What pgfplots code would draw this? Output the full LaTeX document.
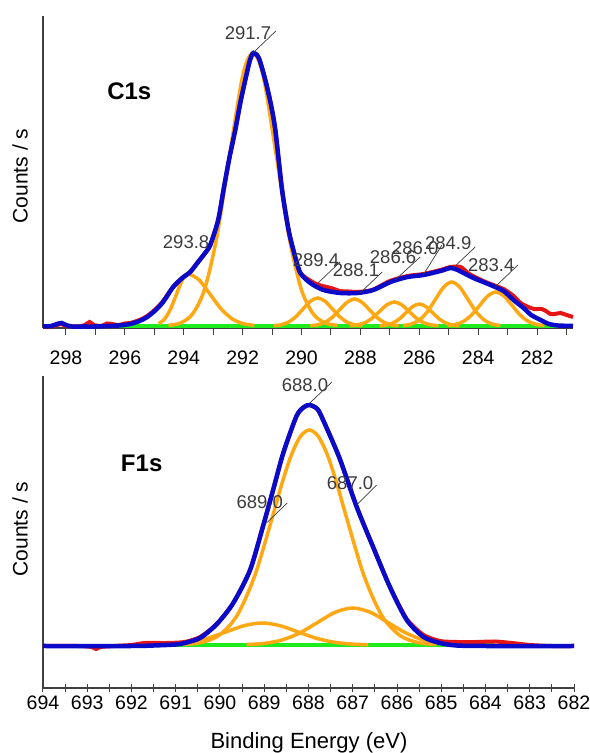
\documentclass[border=0pt]{standalone}
\usepackage{fontspec}
\setmainfont{Liberation Sans}
\usepackage{pgfplots}
\pgfplotsset{compat=1.18}
\definecolor{cblue}{RGB}{10,10,200}
\definecolor{corange}{RGB}{255,168,20}
\definecolor{cgreen}{RGB}{30,235,30}
\definecolor{cred}{RGB}{230,20,20}
\definecolor{lgray}{RGB}{60,60,60}
\pgfplotsset{
 xps/.style={
  scale only axis, height=312bp, x dir=reverse, ymin=0, ymax=312,
  axis lines*=left, ytick=\empty, clip=false,
  axis line style={draw=black!75, line width=1.2bp},
  tick style={draw=black!75, line width=1bp},
  /pgf/number format/assume math mode=true,
  /pgf/number format/fixed,
  ticklabel style={font=\fontsize{19.5bp}{19.5bp}\selectfont},
 },
}
\tikzset{
 bl/.style={cblue, line width=4.5bp, smooth, tension=0.45},
 rd/.style={cred, line width=4bp, smooth, tension=0.4},
 og/.style={corange, line width=3.5bp, smooth},
 gr/.style={cgreen, line width=4bp},
 lab/.style={font=\fontsize{18.5bp}{18.5bp}\selectfont, text=lgray, inner sep=0pt},
 ld/.style={lgray, line width=0.7bp},
}
\begin{document}
\begin{tikzpicture}[x=1bp,y=1bp]
\path[use as bounding box] (0,0) rectangle (590,753);
% ---------------- C1s ----------------
\begin{axis}[xps, width=530bp, at={(43bp,425bp)}, anchor=south west,
  xmin=280.78, xmax=298.78, xtick={282,284,...,298}, minor xtick={281,283,...,297},
  tick align=outside, major tick length=7bp, minor tick length=7bp,
  xticklabel style={anchor=north, yshift=-12bp}]
\addplot[gr, no marks] coordinates {(296.2,2) (280.78,2)};
% components
\addplot[og, no marks] coordinates {(294.52,2.6) (294.11,5.0) (293.70,14.0) (293.29,38.9) (292.88,90.6) (292.47,167.6) (292.06,242.9) (291.855,266.6) (291.65,275) (291.445,266.6) (291.24,242.9) (290.83,167.6) (290.42,90.6) (290.01,38.9) (289.60,14.0) (289.19,5.0) (288.78,2.6)};
\addplot[og, no marks] coordinates {(294.85,4.3) (294.65,9.0) (294.45,18.9) (294.25,33.5) (294.05,47.9) (293.85,54) (293.475,47.9) (293.10,33.5) (292.725,18.9) (292.35,9.0) (291.975,4.3) (291.60,2.6)};
\addplot[og, no marks] coordinates {(290.95,2.3) (290.70,3.2) (290.45,5.8) (290.20,11.1) (289.95,19.0) (289.70,26.7) (289.45,30) (289.20,26.7) (288.95,19.0) (288.70,11.1) (288.45,5.8) (288.20,3.2) (287.95,2.3)};
\addplot[og, no marks] coordinates {(289.70,2.3) (289.45,3.2) (289.20,5.7) (288.95,10.8) (288.70,18.4) (288.45,25.8) (288.20,29) (287.95,25.8) (287.70,18.4) (287.45,10.8) (287.20,5.7) (286.95,3.2) (286.70,2.3)};
\addplot[og, no marks] coordinates {(288.35,2.3) (288.10,3.1) (287.85,5.2) (287.60,9.8) (287.35,16.6) (287.10,23.2) (286.85,26) (286.60,23.2) (286.35,16.6) (286.10,9.8) (285.85,5.2) (285.60,3.1) (285.35,2.3)};
\addplot[og, no marks] coordinates {(287.35,2.2) (287.125,3.0) (286.90,5.0) (286.675,9.1) (286.45,15.3) (286.225,21.4) (286.0,24) (285.775,21.4) (285.55,15.3) (285.325,9.1) (285.10,5.0) (284.875,3.0) (284.65,2.2)};
\addplot[og, no marks] coordinates {(286.55,2.5) (286.275,3.9) (286.0,8.0) (285.725,16.3) (285.45,28.7) (285.175,40.8) (284.9,46) (284.625,40.8) (284.35,28.7) (284.075,16.3) (283.80,8.0) (283.525,3.9) (283.25,2.5)};
\addplot[og, no marks] coordinates {(285.05,2.4) (284.775,3.5) (284.50,6.6) (284.225,13.0) (283.95,22.6) (283.675,32.0) (283.4,36) (283.125,32.0) (282.85,22.6) (282.575,13.0) (282.30,6.6) (282.025,3.5) (281.75,2.4)};
% data
\addplot[rd, no marks] coordinates {(298.78,1) (298.5,1.5) (298.3,3) (298.15,4) (298.0,2) (297.6,1.5) (297.35,3) (297.2,6) (297.05,3) (296.8,2) (296.6,4.5) (296.45,4) (296.2,3) (296.0,4.5) (295.82,5) (295.5,8) (295.24,12) (294.95,19) (294.70,27) (294.36,41) (294.05,50) (293.78,56) (293.54,65) (293.3,74) (293.1,83) (292.83,108) (292.65,138) (292.45,170) (292.25,198) (292.08,225) (291.91,248) (291.75,268) (291.63,275) (291.45,270) (291.23,248) (291.05,225) (290.89,198) (290.66,138) (290.44,98) (290.25,75) (290.04,55) (289.5,44) (289.0,40) (288.7,37) (288.4,36.5) (288.1,36) (287.6,38) (287.0,47) (286.4,52) (285.86,54) (285.28,58) (284.94,61) (284.6,61) (284.3,54) (283.9,48) (283.58,44) (283.14,39) (282.80,32) (282.56,25) (282.3,21) (282.1,19) (281.85,19) (281.7,17) (281.55,14) (281.4,14) (281.2,15) (281.0,13) (280.78,11)};
\addplot[bl, no marks] coordinates {(298.78,1.5) (298.5,2) (298.3,4) (298.15,5) (298.0,3) (297.8,1.5) (297.4,1.5) (297.0,1.5) (296.6,2) (296.2,2.5) (295.82,4) (295.5,7) (295.24,11) (294.95,18) (294.70,26) (294.36,41) (294.05,50) (293.78,56) (293.54,65) (293.3,74) (293.1,83) (292.83,108) (292.65,138) (292.45,170) (292.25,198) (292.08,225) (291.91,248) (291.75,268) (291.63,275) (291.45,270) (291.23,248) (291.05,225) (290.89,198) (290.66,138) (290.44,98) (290.25,75) (290.04,55) (289.70,45) (289.26,38) (288.68,35) (288.10,35) (287.56,38) (286.98,46) (286.40,51) (285.86,53) (285.28,57) (284.94,60) (284.70,58) (284.16,50) (283.58,43) (283.14,37) (282.80,28) (282.46,20) (282.2,13) (281.88,8) (281.6,4) (281.30,2.5) (280.78,2)};
% peak labels
\draw[ld] (axis cs:291.65,275) -- (axis cs:290.87,297);
\node[lab] at (axis cs:291.82,295) {291.7};
\node[lab] at (axis cs:293.92,86) {293.8};
\draw[ld] (axis cs:289.44,45) -- (axis cs:288.69,66);
\node[lab] at (axis cs:289.51,68) {289.4};
\draw[ld] (axis cs:288.01,35) -- (axis cs:287.26,56);
\node[lab] at (axis cs:288.15,58) {288.1};
\draw[ld] (axis cs:286.82,48) -- (axis cs:285.97,71);
\node[lab] at (axis cs:286.89,71) {286.6};
\draw[ld] (axis cs:285.87,53) -- (axis cs:285.23,83);
\node[lab] at (axis cs:286.14,80) {286.0};
\draw[ld] (axis cs:284.85,60) -- (axis cs:284.1,81);
\node[lab] at (axis cs:285.02,85) {284.9};
\draw[ld] (axis cs:283.43,41) -- (axis cs:282.65,63);
\node[lab] at (axis cs:283.56,63) {283.4};
\node[font=\fontsize{24bp}{24bp}\selectfont\bfseries] at (axis cs:295.85,237) {C1s};
\end{axis}
% ---------------- F1s ----------------
\begin{axis}[xps, width=531bp, at={(43bp,65bp)}, anchor=south west,
  xmin=682, xmax=694, xtick={682,...,694}, minor xtick={682.5,683.5,...,693.5},
  tick align=center, major tick length=8bp, minor tick length=8bp]
\addplot[gr, no marks] coordinates {(691.3,43) (683.8,43)};
\addplot[og, no marks] coordinates {(690.85,43.5) (690.44,45.4) (690.03,52.4) (689.62,72.1) (689.21,112.8) (688.80,173.4) (688.595,205.3) (688.39,232.7) (688.185,251.4) (687.98,258) (687.775,251.4) (687.57,232.7) (687.365,205.3) (687.16,173.4) (686.75,112.8) (686.34,72.1) (685.93,52.4) (685.52,45.4) (685.11,43.5)};
\addplot[og, no marks] coordinates {(689.4,43.4) (689.0,44.6) (688.6,48.0) (688.2,55.0) (687.8,65.4) (687.4,75.7) (687.0,80) (686.6,75.7) (686.2,65.4) (685.8,55.0) (685.4,48.0) (685.0,44.6) (684.6,43.4)};
\addplot[og, no marks] coordinates {(691.45,43.2) (691.05,44.0) (690.65,46.0) (690.25,50.1) (689.85,56.3) (689.45,62.4) (689.05,65) (688.65,62.4) (688.25,56.3) (687.85,50.1) (687.45,46.0) (687.05,44.0) (686.65,43.2)};
\addplot[rd, no marks] coordinates {(694,42) (693.2,42) (692.9,41) (692.8,39) (692.7,41) (692.4,42) (692.0,43) (691.7,45) (691.2,45) (690.8,46) (690.45,51) (690.07,64) (689.7,85) (689.32,118) (689.02,163) (688.8,198) (688.57,235) (688.27,272) (688.1,281) (687.97,283) (687.8,279) (687.67,268) (687.3,230) (686.91,181) (686.54,141) (686.16,101) (685.78,69) (685.4,53) (685.03,47) (684.65,46) (684.2,46) (683.8,46.5) (683.4,45) (683.0,43) (682.5,42) (682,42)};
\addplot[bl, no marks] coordinates {(694,42) (692,42) (691.5,42.5) (691.0,43.5) (690.8,45) (690.45,50) (690.07,64) (689.7,85) (689.32,118) (689.02,163) (688.8,198) (688.57,235) (688.27,272) (688.1,281) (687.97,283) (687.8,279) (687.67,268) (687.3,230) (686.91,181) (686.54,141) (686.16,101) (685.78,68) (685.4,51) (685.03,45) (684.65,42.5) (684,42) (682,42)};
\draw[ld] (axis cs:687.97,285) -- (axis cs:687.47,306);
\node[lab] at (axis cs:688.08,303) {688.0};
\draw[ld] (axis cs:688.95,165) -- (axis cs:688.48,185);
\node[lab] at (axis cs:689.1,186) {689.0};
\draw[ld] (axis cs:686.91,183) -- (axis cs:686.46,203);
\node[lab] at (axis cs:687.06,205) {687.0};
\node[font=\fontsize{24bp}{24bp}\selectfont\bfseries] at (axis cs:691.77,225) {F1s};
\end{axis}
\node[rotate=90, font=\fontsize{21bp}{21bp}\selectfont] at (20,577) {Counts / s};
\node[rotate=90, font=\fontsize{21bp}{21bp}\selectfont] at (20,224) {Counts / s};
\node[anchor=base, font=\fontsize{22bp}{22bp}\selectfont] at (309,4) {Binding Energy (eV)};
\end{tikzpicture}
\end{document}
